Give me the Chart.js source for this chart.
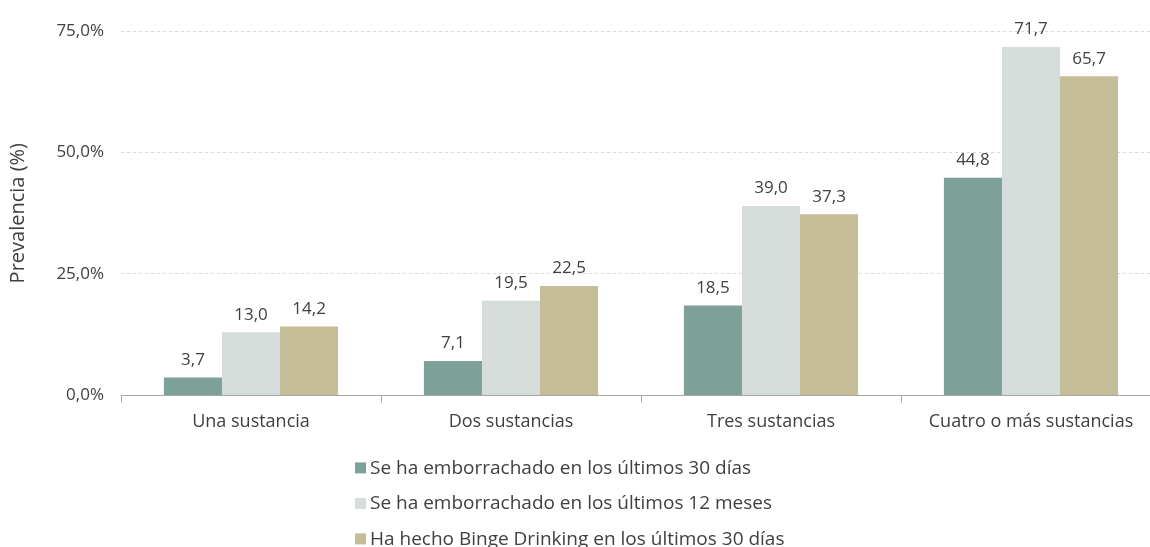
<!DOCTYPE html>
<html>
<head>
<meta charset="utf-8">
<script src="https://cdn.jsdelivr.net/npm/chart.js@4.4.1/dist/chart.umd.min.js"></script>
<style>
  html, body { margin: 0; padding: 0; background: #fff; overflow: hidden; }
  #wrap { position: relative; width: 1170px; height: 547px; }
</style>
</head>
<body>
<div id="wrap"><canvas id="graphCanvas"></canvas></div>
<script>
const categories = ['Una sustancia', 'Dos sustancias', 'Tres sustancias', 'Cuatro o más sustancias'];
const seriesNames = [
    'Se ha emborrachado en los últimos 30 días',
    'Se ha emborrachado en los últimos 12 meses',
    'Ha hecho Binge Drinking en los últimos 30 días'
];
const borracho30 = [3.7, 7.1, 18.5, 44.8];
const borracho12m = [13.0, 19.5, 39.0, 71.7];
const binge30 = [14.2, 22.5, 37.3, 65.7];
const yTicks = [0, 25, 50, 75];
const colors = ['#7da098', '#d5dcd9', '#c5bd97'];

const ctx = document.getElementById('graphCanvas');
const textColor = '#404040';
const mainFont = "'Open Sans', sans-serif";

// value labels over the bars
const valueLabels = {
    id: 'valueLabels',
    afterDatasetsDraw(chart) {
        const c = chart.ctx;
        c.save();
        c.font = '17px ' + mainFont;
        c.fillStyle = textColor;
        c.textAlign = 'center';
        c.textBaseline = 'bottom';
        chart.data.datasets.forEach((ds, i) => {
            chart.getDatasetMeta(i).data.forEach((bar, j) => {
                c.fillText(ds.data[j].toFixed(1).replace('.', ','), bar.x, bar.y - 9);
            });
        });
        c.restore();
    }
};

// vertical legend under the axis
const stackedLegend = {
    id: 'stackedLegend',
    afterDraw(chart) {
        const c = chart.ctx;
        const left = 355;
        let y = chart.chartArea.bottom + 73;
        c.save();
        c.font = '19px ' + mainFont;
        c.textBaseline = 'middle';
        chart.data.datasets.forEach((ds) => {
            c.fillStyle = ds.backgroundColor;
            c.fillRect(left, y - 6, 11, 11);
            c.fillStyle = textColor;
            c.fillText(ds.label, left + 15, y);
            y += 35.5;
        });
        c.restore();
    }
};

new Chart(ctx, {
    type: 'bar',
    data: {
        labels: categories,
        datasets: [
            { label: seriesNames[0], data: borracho30, backgroundColor: colors[0] },
            { label: seriesNames[1], data: borracho12m, backgroundColor: colors[1] },
            { label: seriesNames[2], data: binge30, backgroundColor: colors[2] }
        ]
    },
    options: {
        responsive: true,
        maintainAspectRatio: false,
        animation: false,
        barPercentage: 1,
        categoryPercentage: 0.67,
        layout: {
            padding: { top: 31, right: 9, bottom: 105, left: 6 }
        },
        plugins: {
            legend: { display: false },
            tooltip: { enabled: false }
        },
        scales: {
            x: {
                border: { display: true, color: '#a6a6a6', width: 1 },
                grid: {
                    offset: true,
                    drawOnChartArea: false,
                    drawTicks: true,
                    tickLength: 7,
                    color: '#a6a6a6'
                },
                ticks: {
                    color: textColor,
                    font: { family: mainFont, size: 18 },
                    padding: 9
                }
            },
            y: {
                min: 0,
                max: 75,
                afterBuildTicks: (scale) => {
                    scale.ticks = yTicks.map(v => ({ value: v }));
                },
                afterFit: (scale) => { scale.width = 115; },
                border: { display: false, dash: [3, 3] },
                grid: {
                    drawTicks: false,
                    color: (c) => c.tick && c.tick.value === 0 ? 'rgba(0,0,0,0)' : '#d9d9d9'
                },
                ticks: {
                    color: textColor,
                    font: { family: mainFont, size: 17 },
                    padding: 17,
                    callback: (v) => v.toFixed(1).replace('.', ',') + '%'
                },
                title: {
                    display: true,
                    text: 'Prevalencia (%)',
                    color: textColor,
                    font: { family: mainFont, size: 20 },
                    padding: { top: 0, bottom: 0 }
                }
            }
        }
    },
    plugins: [valueLabels, stackedLegend]
});
</script>
</body>
</html>
